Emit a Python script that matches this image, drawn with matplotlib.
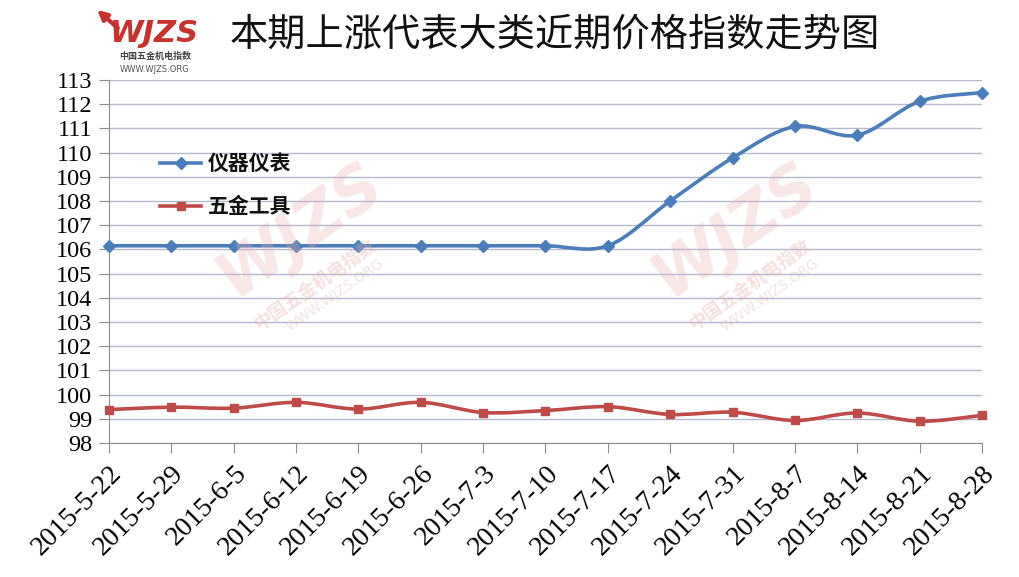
import matplotlib
matplotlib.use('Agg')
import matplotlib.pyplot as plt
from matplotlib.path import Path
from matplotlib.patches import PathPatch
import numpy as np

dates = ['2015-5-22', '2015-5-29', '2015-6-5', '2015-6-12', '2015-6-19', '2015-6-26',
         '2015-7-3', '2015-7-10', '2015-7-17', '2015-7-24', '2015-7-31', '2015-8-7',
         '2015-8-14', '2015-8-21', '2015-8-28']
yiqi = [106.15, 106.15, 106.15, 106.15, 106.15, 106.15, 106.15, 106.15, 106.15,
        108.0, 109.78, 111.08, 110.72, 112.12, 112.48]
wujin = [99.38, 99.48, 99.44, 99.68, 99.4, 99.68, 99.26, 99.34, 99.5,
         99.18, 99.27, 98.93, 99.24, 98.9, 99.14]

BLUE = '#4A7EBB'
RED = '#BE4B48'
CJK = ['Noto Sans CJK SC', 'DejaVu Sans']


def smooth_path(xs, ys, t=1 / 6):
    # bezier segments through the points, like Excel's smoothed line
    xs = np.asarray(xs, float)
    ys = np.asarray(ys, float)
    n = len(xs)
    verts = [(xs[0], ys[0])]
    codes = [Path.MOVETO]
    for i in range(n - 1):
        p0 = max(i - 1, 0)
        p3 = min(i + 2, n - 1)
        c1 = (xs[i] + (xs[i + 1] - xs[p0]) * t, ys[i] + (ys[i + 1] - ys[p0]) * t)
        c2 = (xs[i + 1] - (xs[p3] - xs[i]) * t, ys[i + 1] - (ys[p3] - ys[i]) * t)
        verts += [c1, c2, (xs[i + 1], ys[i + 1])]
        codes += [Path.CURVE4] * 3
    return Path(verts, codes)


fig = plt.figure(figsize=(10.2, 5.77), dpi=100)
ax = fig.add_axes([109 / 1020, 1 - 443 / 577, (982 - 109) / 1020, (443 - 80) / 577])

x = np.arange(len(dates))
for vals, col, mk in [(yiqi, BLUE, 'D'), (wujin, RED, 's')]:
    ax.add_patch(PathPatch(smooth_path(x, vals), fill=False, edgecolor=col, lw=2.6,
                           zorder=3, capstyle='round'))
    ax.plot(x, vals, ls='none', marker=mk, color=col, ms=6 if mk == 'D' else 5.5, zorder=4,
            clip_on=False)

ax.set_xlim(0, len(dates) - 1)
ax.set_ylim(98, 113)
ax.set_yticks(range(98, 114))
ax.set_xticks(x)
ax.set_xticklabels(dates, rotation=45, ha='right', rotation_mode='anchor',
                   family='Liberation Serif', fontsize=20)
for lab in ax.get_yticklabels():
    lab.set_family('Liberation Serif')
    lab.set_fontsize(17.5)
ax.grid(axis='y', color='#B4B9CC', lw=1)
ax.set_axisbelow(True)
for s in ['top', 'right']:
    ax.spines[s].set_visible(False)
for s in ['left', 'bottom']:
    ax.spines[s].set_color('#8C8C8C')
ax.tick_params(axis='y', length=7, color='#8C8C8C', pad=5)
ax.tick_params(axis='x', length=7, color='#8C8C8C', pad=6)

# legend as in the original, drawn in axes coords
for i, (col, mk, lbl) in enumerate([(BLUE, 'D', '仪器仪表'), (RED, 's', '五金工具')]):
    yy = 0.77 - i * 0.118
    ax.plot([0.058, 0.105], [yy, yy], color=col, lw=2.6, transform=ax.transAxes)
    ax.plot([0.082], [yy], marker=mk, color=col, ms=6, transform=ax.transAxes)
    ax.text(0.113, yy, lbl, transform=ax.transAxes, va='center', ha='left',
            family=CJK, fontsize=15, fontweight='bold', color='#111111')

fig.text(555 / 1020, 1 - 35 / 577, '本期上涨代表大类近期价格指数走势图', ha='center', va='center',
         family=CJK, fontsize=27.5, color='#111111')

# logo top left
fig.text(154 / 1020, 1 - 33 / 577, 'WJZS', ha='center', va='center', fontsize=22,
         fontweight='bold', style='italic', color='#C8312C', family='DejaVu Sans')
fig.text(155 / 1020, 1 - 57 / 577, '中国五金机电指数', ha='center', va='center', fontsize=6.5,
         fontweight='bold', color='#444444', family=CJK)
fig.text(155 / 1020, 1 - 69 / 577, 'WWW.WJZS.ORG', ha='center', va='center', fontsize=6,
         color='#555555', family='DejaVu Sans')
fig.add_artist(matplotlib.patches.FancyArrowPatch((120 / 1020, 1 - 30 / 577), (95 / 1020, 1 - 8 / 577),
                                                  transform=fig.transFigure, arrowstyle='-|>',
                                                  mutation_scale=14, color='#C8312C', lw=3))

# faded watermarks
for cx, cy in [(300, 250), (735, 250)]:
    fig.text(cx / 1020, 1 - (cy - 20) / 577, 'WJZS', ha='center', va='center', fontsize=46,
             fontweight='bold', style='italic', color='#EBAFAF', alpha=0.3, rotation=35,
             family='DejaVu Sans', zorder=0)
    fig.text((cx + 15) / 1020, 1 - (cy + 35) / 577, '中国五金机电指数', ha='center', va='center',
             fontsize=13, fontweight='bold', color='#EBAFAF', alpha=0.4, rotation=35,
             family=CJK, zorder=0)
    fig.text((cx + 35) / 1020, 1 - (cy + 45) / 577, 'WWW.WJZS.ORG', ha='center', va='center',
             fontsize=10, color='#E0B8B8', alpha=0.4, rotation=35, family='DejaVu Sans', zorder=0)

fig.savefig('out.png', dpi=100)
